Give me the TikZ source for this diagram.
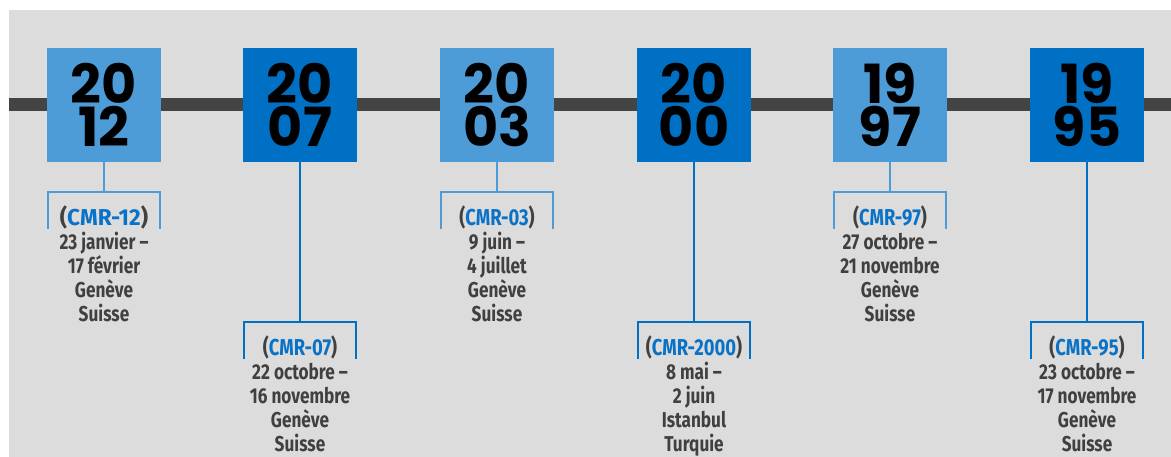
\documentclass[tikz,border=0pt]{standalone}
\usepackage{fontspec}
\usetikzlibrary{calc}
\newfontfamily\yearfont{Poppins}
\newfontfamily\lblfont{Fira Sans}[FakeStretch=0.8]
\newfontfamily\lblwide{Fira Sans}[FakeStretch=0.98]
\definecolor{bggray}{HTML}{DCDCDC}
\definecolor{bargray}{HTML}{444444}
\definecolor{lightb}{HTML}{4E9CD7}
\definecolor{darkb}{HTML}{0070C4}
\definecolor{txtgray}{HTML}{404040}
\definecolor{cmrblue}{HTML}{0A72C6}
\newcommand\cmrline[1]{{\fontsize{23}{24}\selectfont(\textcolor{cmrblue}{#1})}}
\newcommand\cmrwide[1]{{\lblwide\bfseries\fontsize{23}{24}\selectfont(\textcolor{cmrblue}{#1})}}
\tikzset{
  yearbox/.style={minimum width=114pt, minimum height=114pt, inner sep=0pt,
    align=center, text=black, font={\yearfont\bfseries\fontsize{54}{43}\selectfont}},
  conn/.style={line width=2pt},
  lbl/.style={anchor=north, inner sep=0pt, align=center, text=txtgray,
    font={\lblfont\bfseries\fontsize{21.5}{24}\selectfont}}
}
\begin{document}
\begin{tikzpicture}[x=1pt,y=-1pt]
\useasboundingbox (0,0) rectangle (1171,457);
\fill[white] (0,0) rectangle (1171,457);
\fill[bggray] (9,10) rectangle (1171,457);
\fill[bargray] (9,98) rectangle (1171,111);
\foreach \n/\cx/\ya/\yb/\col/\ty/\lbltext in {
  1/104/20/12/lightb/192/{\cmrwide{CMR-12}\\23 janvier –\\17 février\\Genève\\Suisse},
  2/300/20/07/darkb/322/{\cmrline{CMR-07}\\22 octobre –\\16 novembre\\Genève\\Suisse},
  3/497/20/03/lightb/192/{\cmrline{CMR-03}\\9 juin –\\4 juillet\\Genève\\Suisse},
  4/694/20/00/darkb/322/{\cmrline{CMR-2000}\\8 mai –\\2 juin\\Istanbul\\Turquie},
  5/890/19/97/lightb/192/{\cmrline{CMR-97}\\27 octobre –\\21 novembre\\Genève\\Suisse},
  6/1087/19/95/darkb/322/{\cmrline{CMR-95}\\23 octobre –\\17 novembre\\Genève\\Suisse}}
{
  \node[yearbox, fill=\col] (b\n) at (\cx,105) {\ya\\\yb};
  \coordinate (t\n) at (\cx,\ty);
  \coordinate (tl\n) at ([shift={(-56,0)}]t\n);
  \coordinate (tr\n) at ([shift={(56,0)}]t\n);
  \coordinate (ll\n) at ([shift={(-56,37)}]t\n);
  \coordinate (lr\n) at ([shift={(56,37)}]t\n);
  \draw[conn, \col] (b\n.south) -- (t\n);
  \draw[conn, \col] (ll\n) -- (tl\n) -- (tr\n) -- (lr\n);
  \node[lbl] (l\n) at ([shift={(0,14)}]t\n) {\lbltext};
}
\end{tikzpicture}
\end{document}
